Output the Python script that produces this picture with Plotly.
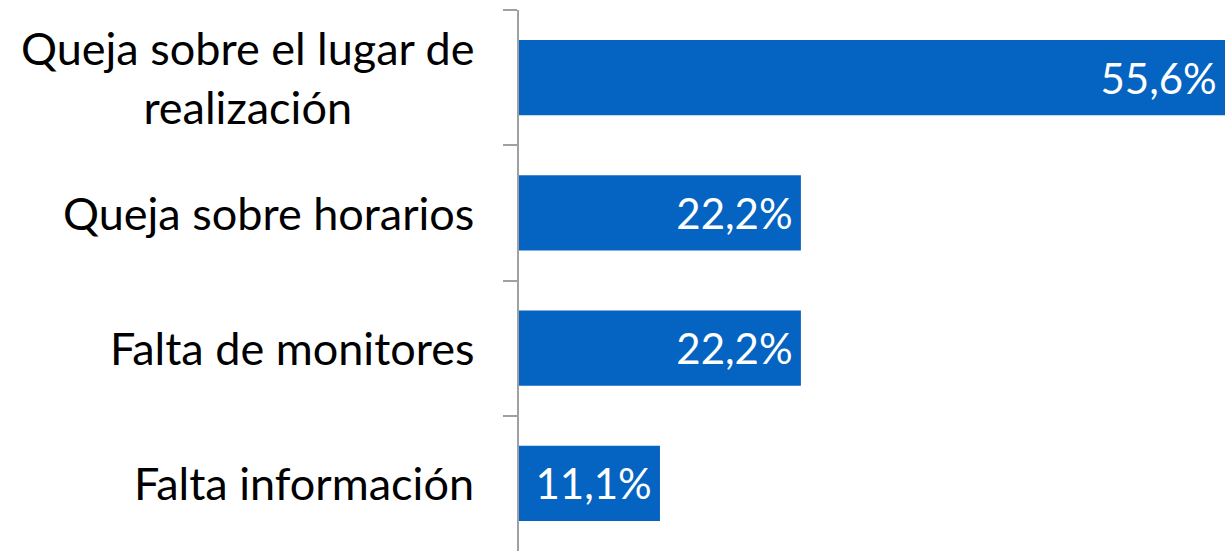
import plotly.graph_objects as go

categories = ["Queja sobre el lugar de<br>realización", "Queja sobre horarios", "Falta de monitores", "Falta información"]
values = [55.6, 22.2, 22.2, 11.1]
value_labels = ["55,6%", "22,2%", "22,2%", "11,1%"]

FONT = "Lato"
fig = go.Figure(go.Bar(
    x=values, y=categories, orientation="h",
    marker=dict(color="#0563C1", line=dict(width=0)),
    text=value_labels, texttemplate="%{text}\u2009", textposition="inside", insidetextanchor="end",
    textfont=dict(color="white", size=42, family=FONT),
    cliponaxis=False, hoverinfo="skip",
))

for c in categories:
    fig.add_annotation(x=0, xref="paper", y=c, yref="y", text=c, showarrow=False,
                       xanchor="right", xshift=-43, align="center",
                       font=dict(size=45, color="black", family=FONT))

fig.update_layout(
    width=1225, height=554,
    margin=dict(l=519, r=0, t=10, b=3),
    plot_bgcolor="white", paper_bgcolor="white",
    bargap=0.445, showlegend=False,
    uniformtext=dict(mode=False),
)
fig.update_xaxes(range=[0, 55.6], visible=False)
fig.update_yaxes(autorange="reversed", showticklabels=False, ticks="outside", tickson="boundaries",
                 ticklen=14, tickcolor="#A0A0A0", tickwidth=2,
                 showline=True, linecolor="#A0A0A0", linewidth=2, showgrid=False, zeroline=False)
fig.write_html("out.html", config={"displayModeBar": False},
               post_script="document.body.style.margin='0';document.body.style.overflow='hidden';")
